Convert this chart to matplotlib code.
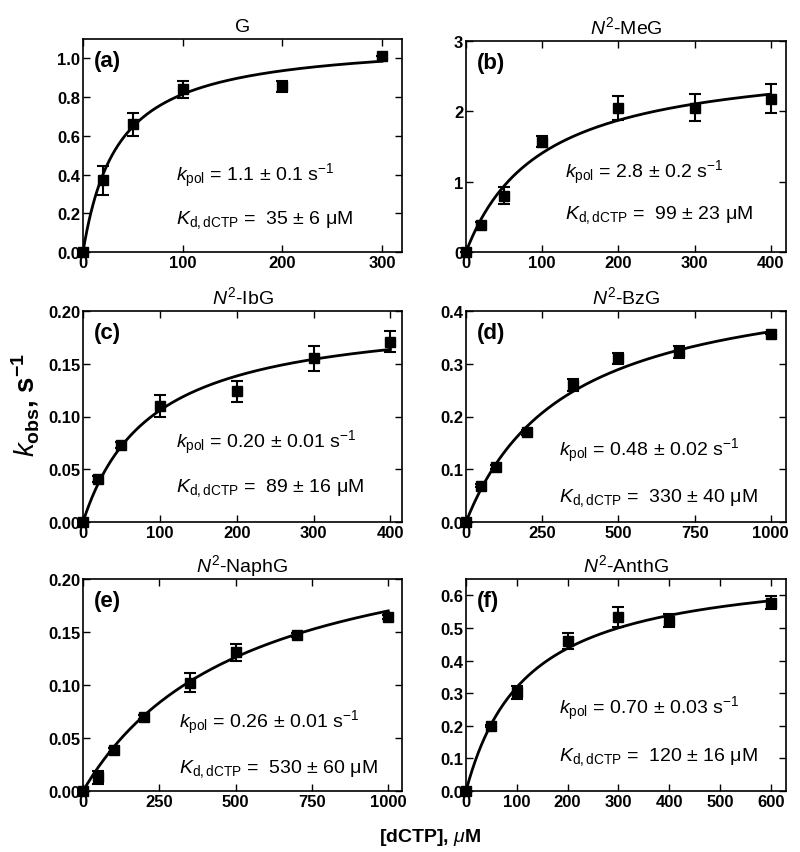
import numpy as np
import matplotlib
matplotlib.use('Agg')
import matplotlib.pyplot as plt

plt.rcParams['font.family'] = ['Liberation Sans', 'DejaVu Sans']
plt.rcParams['mathtext.fontset'] = 'custom'
plt.rcParams['mathtext.rm'] = 'Liberation Sans'
plt.rcParams['mathtext.it'] = 'Liberation Sans:italic'
plt.rcParams['mathtext.bf'] = 'Liberation Sans:bold'

# data
titles = ['G', '$\\mathit{N}^2$-MeG', '$\\mathit{N}^2$-IbG', '$\\mathit{N}^2$-BzG',
          '$\\mathit{N}^2$-NaphG', '$\\mathit{N}^2$-AnthG']
labels = ['(a)', '(b)', '(c)', '(d)', '(e)', '(f)']

x_a = [0, 20, 50, 100, 200, 300]
y_a = [0, 0.37, 0.66, 0.84, 0.855, 1.01]
e_a = [0, 0.075, 0.06, 0.045, 0.03, 0]

x_b = [0, 20, 50, 100, 200, 300, 400]
y_b = [0, 0.38, 0.80, 1.57, 2.05, 2.05, 2.18]
e_b = [0, 0.05, 0.12, 0.08, 0.17, 0.19, 0.21]

x_c = [0, 20, 50, 100, 200, 300, 400]
y_c = [0, 0.041, 0.073, 0.110, 0.124, 0.155, 0.171]
e_c = [0, 0.003, 0.003, 0.010, 0.010, 0.012, 0.010]

x_d = [0, 50, 100, 200, 350, 500, 700, 1000]
y_d = [0, 0.069, 0.105, 0.170, 0.260, 0.310, 0.322, 0.357]
e_d = [0, 0.003, 0.004, 0.005, 0.011, 0.011, 0.011, 0]

x_e = [0, 50, 100, 200, 350, 500, 700, 1000]
y_e = [0, 0.013, 0.039, 0.070, 0.102, 0.131, 0.147, 0.164]
e_e = [0, 0.006, 0.002, 0.002, 0.009, 0.008, 0.002, 0.002]

x_f = [0, 50, 100, 200, 300, 400, 600]
y_f = [0, 0.200, 0.303, 0.460, 0.533, 0.522, 0.577]
e_f = [0, 0.003, 0.020, 0.025, 0.030, 0.020, 0.020]

# fitted parameters printed on each panel
kpol = [1.1, 2.8, 0.20, 0.48, 0.26, 0.70]
kd = [35, 99, 89, 330, 530, 120]
kpol_txt = ['1.1 ± 0.1', '2.8 ± 0.2', '0.20 ± 0.01', '0.48 ± 0.02', '0.26 ± 0.01', '0.70 ± 0.03']
kd_txt = ['35 ± 6', '99 ± 23', '89 ± 16', '330 ± 40', '530 ± 60', '120 ± 16']

xs = [x_a, x_b, x_c, x_d, x_e, x_f]
ys = [y_a, y_b, y_c, y_d, y_e, y_f]
es = [e_a, e_b, e_c, e_d, e_e, e_f]

xlims = [320, 420, 415, 1050, 1045, 630]
ylims = [1.1, 3, 0.20, 0.4, 0.20, 0.65]
xticks = [[0, 100, 200, 300], [0, 100, 200, 300, 400], [0, 100, 200, 300, 400],
          [0, 250, 500, 750, 1000], [0, 250, 500, 750, 1000], [0, 100, 200, 300, 400, 500, 600]]
yticks = [[0, 0.2, 0.4, 0.6, 0.8, 1.0], [0, 1, 2, 3], [0, 0.05, 0.10, 0.15, 0.20],
          [0, 0.1, 0.2, 0.3, 0.4], [0, 0.05, 0.10, 0.15, 0.20], [0, 0.1, 0.2, 0.3, 0.4, 0.5, 0.6]]
yfmt = ['%.1f', '%d', '%.2f', '%.1f', '%.2f', '%.1f']

# axes boxes in pixels (left, top, right, bottom)
boxes = [(83, 40, 402, 253), (466, 42, 786, 253),
         (83, 312, 402, 523), (466, 312, 786, 523),
         (83, 580, 402, 792), (466, 580, 786, 792)]
txt_pos = [(0.29, 0.36, 0.155), (0.31, 0.38, 0.18), (0.29, 0.38, 0.166),
           (0.29, 0.34, 0.12), (0.30, 0.325, 0.11), (0.29, 0.39, 0.165)]

W, H = 800, 853
fig = plt.figure(figsize=(W / 100, H / 100), dpi=100)

for i in range(6):
    l, t, r, b = boxes[i]
    ax = fig.add_axes([l / W, 1 - b / H, (r - l) / W, (b - t) / H])
    xf = np.linspace(0, max(xs[i]), 300)
    ax.plot(xf, kpol[i] * xf / (kd[i] + xf), color='black', lw=2)
    ax.errorbar(xs[i], ys[i], yerr=es[i], fmt='s', color='black', ms=7,
                capsize=4, elinewidth=1.5, capthick=1.5, clip_on=False, zorder=3)
    ax.set_xlim(0, xlims[i])
    ax.set_ylim(0, ylims[i])
    ax.set_xticks(xticks[i])
    ax.set_yticks(yticks[i])
    ax.set_yticklabels([yfmt[i] % v for v in yticks[i]])
    ax.tick_params(direction='in', top=True, right=True, length=5, width=1,
                   labelsize=12, pad=2)
    for lab in ax.get_xticklabels() + ax.get_yticklabels():
        lab.set_fontweight('bold')
    for s in ax.spines.values():
        s.set_linewidth(1.2)
    ax.set_title(titles[i], fontsize=14, pad=6)
    ax.text(0.035, 0.9, labels[i], transform=ax.transAxes, fontsize=16,
            fontweight='bold', va='center')
    tx, ty1, ty2 = txt_pos[i]
    ax.text(tx, ty1, '$\\mathit{k}_{\\mathrm{pol}}$ = ' + kpol_txt[i] + ' s$^{-1}$',
            transform=ax.transAxes, fontsize=14, va='center')
    ax.text(tx, ty2, '$\\mathit{K}_{\\mathrm{d,dCTP}}$ =  ' + kd_txt[i] + ' μM',
            transform=ax.transAxes, fontsize=14, va='center')

fig.text(25 / W, 1 - 405 / H, '$\\mathbf{\\mathit{k}_{obs}}$, s$^{\\mathbf{-1}}$',
         rotation=90, fontsize=20, fontweight='bold', va='center', ha='center')
fig.text(430 / W, 1 - 838 / H, '[dCTP], $\\mathbf{\\mathit{μ}}$M', fontsize=14,
         fontweight='bold', ha='center', va='center')

plt.savefig('out.png', dpi=100)
